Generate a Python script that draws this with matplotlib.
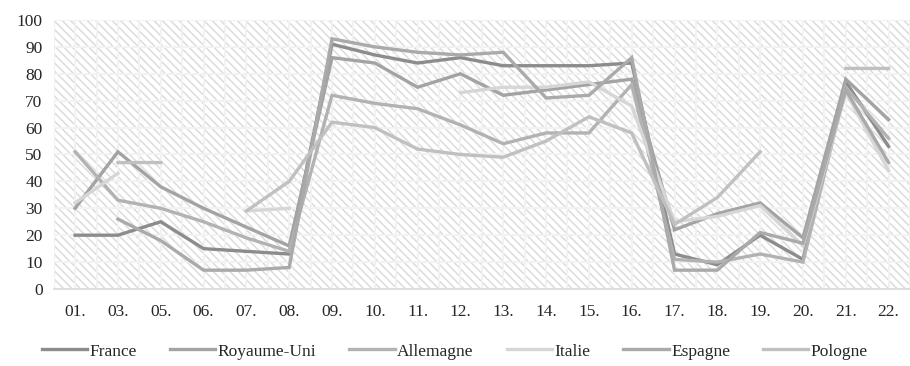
import numpy as np
import matplotlib
matplotlib.use("Agg")
import matplotlib.pyplot as plt
from matplotlib.patches import Rectangle

nan = np.nan

periods = ["01.", "03.", "05.", "06.", "07.", "08.", "09.", "10.", "11.", "12.",
           "13.", "14.", "15.", "16.", "17.", "18.", "19.", "20.", "21.", "22."]

france      = [20, 20, 25, 15, 14, 13, 91, 87, 84, 86, 83, 83, 83, 84, 13, 9, 20, 11, 77, 53]
royaume_uni = [30, 51, 38, 30, 23, 16, 86, 84, 75, 80, 72, 74, 76, 78, 22, 28, 32, 19, 78, 63]
allemagne   = [51, 33, 30, 25, 19, 14, 72, 69, 67, 61, 54, 58, 58, 76, 11, 10, 13, 10, 75, 56]
italie      = [32, 43, nan, nan, 29, 30, nan, nan, nan, 73, 75, 75, 77, 68, 25, 27, 31, 16, 73, 44]
espagne     = [nan, 26, 18, 7, 7, 8, 93, 90, 88, 87, 88, 71, 72, 86, 7, 7, 21, 17, 74, 47]
pologne     = [nan, 47, 47, nan, 29, 40, 62, 60, 52, 50, 49, 55, 64, 58, 24, 34, 51, nan, 82, 82]

series = [
    ("France", france, "#8c8c8c"),
    ("Royaume-Uni", royaume_uni, "#a3a3a3"),
    ("Allemagne", allemagne, "#b2b2b2"),
    ("Italie", italie, "#d6d6d6"),
    ("Espagne", espagne, "#aaaaaa"),
    ("Pologne", pologne, "#c0c0c0"),
]

plt.rcParams["font.family"] = ["Liberation Serif", "DejaVu Serif"]
plt.rcParams["hatch.linewidth"] = 1.1

fig = plt.figure(figsize=(9.1, 3.66), dpi=100)
ax = fig.add_axes([0.059, 0.2104, 0.941, 0.735])

# striped plot area
ax.add_patch(Rectangle((0, 0), 1, 1, transform=ax.transAxes, facecolor="white",
                       edgecolor="#dcdcdc", hatch="\\\\\\\\", linewidth=0, zorder=0))

x = np.arange(len(periods))
for name, vals, color in series:
    ax.plot(x, vals, color=color, linewidth=2.4, label=name, zorder=3,
            solid_joinstyle="miter")

ax.set_xlim(-0.5, len(periods) - 0.5)
ax.set_ylim(0, 100)
ax.set_yticks(np.arange(0, 101, 10))
ax.set_xticks(x)
ax.set_xticklabels(periods)
ax.set_xticks(np.arange(-0.5, len(periods), 1), minor=True)

ax.set_axisbelow(True)
ax.grid(True, which="both", axis="x", color="#f2f2f2", linewidth=1.4)
ax.grid(True, which="major", axis="y", color="#f2f2f2", linewidth=1.4)

for side in ["top", "right", "left"]:
    ax.spines[side].set_visible(False)
ax.spines["bottom"].set_color("#d9d9d9")
ax.spines["bottom"].set_linewidth(1.2)

ax.tick_params(axis="both", which="both", length=0, labelsize=12.5, colors="#262626")
ax.tick_params(axis="x", pad=11)
ax.tick_params(axis="y", pad=8)

fig.legend(loc="lower center", bbox_to_anchor=(0.5, -0.025), ncol=6, frameon=False,
           fontsize=12.5, handlelength=2.6, handletextpad=0.15, columnspacing=1.9,
           labelcolor="#262626")

fig.savefig("out.png", dpi=100)
